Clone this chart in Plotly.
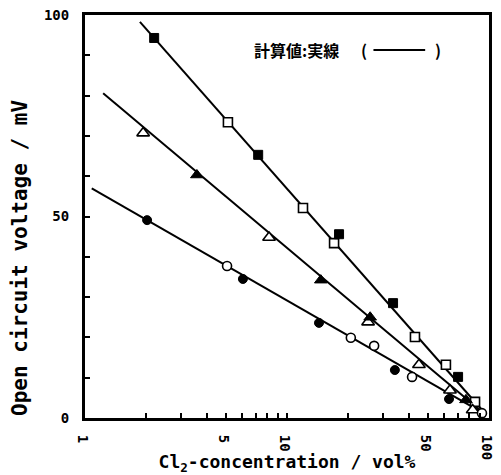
import plotly.graph_objects as go

# --- data ---
sq_filled_x = [2.2, 7.2, 18.1, 33.5, 70.3]
sq_filled_y = [94.3, 65.3, 45.6, 28.5, 10.2]
sq_open_x = [5.1, 12.0, 17.1, 43.0, 61.2, 85.3]
sq_open_y = [73.4, 52.1, 43.4, 20.1, 13.2, 4.0]

tri_filled_x = [3.58, 14.7, 25.8, 76.9]
tri_filled_y = [60.3, 34.2, 25.0, 4.5]
tri_open_x = [1.94, 8.15, 25.2, 45.0, 64.1, 83.0]
tri_open_y = [70.7, 44.8, 23.8, 13.2, 6.9, 2.0]

cir_filled_x = [2.03, 6.05, 14.4, 34.2, 63.4]
cir_filled_y = [49.1, 34.5, 23.6, 11.9, 4.7]
cir_open_x = [5.05, 20.7, 27.0, 41.6, 92.3]
cir_open_y = [37.7, 19.9, 17.9, 10.2, 1.2]

calc_sq_x = [1.87, 95]
calc_sq_y = [98.3, 1.3]
calc_tri_x = [1.23, 95]
calc_tri_y = [80.6, 1.0]
calc_cir_x = [1.08, 95]
calc_cir_y = [57.0, 1.0]

x_tickvals = [1, 2, 3, 4, 5, 6, 7, 8, 9, 10, 20, 30, 40, 50, 60, 70, 80, 90, 100]
x_ticktext = ["1", " ", " ", " ", "5", " ", " ", " ", " ", "10", " ", " ", " ", "50", " ", " ", " ", " ", "100"]
y_tickvals = [0, 10, 20, 30, 40, 50, 60, 70, 80, 90, 100]
y_ticktext = ["0", " ", " ", " ", " ", "50", " ", " ", " ", " ", "100"]

FONT = "DejaVu Sans Mono"

fig = go.Figure()

for lx, ly in [(calc_sq_x, calc_sq_y), (calc_tri_x, calc_tri_y), (calc_cir_x, calc_cir_y)]:
    fig.add_trace(go.Scatter(x=lx, y=ly, mode="lines",
                             line=dict(color="black", width=2), showlegend=False))

def add_markers(x, y, symbol, filled, size=9):
    fig.add_trace(go.Scatter(
        x=x, y=y, mode="markers", showlegend=False,
        marker=dict(symbol=symbol, size=size,
                    color="black" if filled else "white",
                    line=dict(color="black", width=1 if filled else 1.6))))

add_markers(sq_open_x, sq_open_y, "square", False, 9)
add_markers(sq_filled_x, sq_filled_y, "square", True, 9)
add_markers(tri_open_x, tri_open_y, "triangle-up", False, 11)
add_markers(tri_filled_x, tri_filled_y, "triangle-up", True, 11)
add_markers(cir_open_x, cir_open_y, "circle", False, 9)
add_markers(cir_filled_x, cir_filled_y, "circle", True, 9)

legend_font = dict(family="Noto Sans CJK JP", size=16, color="black")
fig.add_annotation(x=0.413, y=0.913, xref="paper", yref="paper", xanchor="left", yanchor="middle",
                   text="<b>計算値:実線</b>", showarrow=False, font=legend_font)
fig.add_annotation(x=0.691, y=0.913, xref="paper", yref="paper", xanchor="center", yanchor="middle",
                   text="<b>(</b>", showarrow=False, font=legend_font)
fig.add_annotation(x=0.874, y=0.913, xref="paper", yref="paper", xanchor="center", yanchor="middle",
                   text="<b>)</b>", showarrow=False, font=legend_font)
fig.add_shape(type="line", xref="paper", yref="paper", x0=0.714, y0=0.913, x1=0.842, y1=0.913,
              line=dict(color="black", width=2))

# y-axis title (placed lower than centre, as in the reference)
fig.add_annotation(x=-0.161, y=0.397, xref="paper", yref="paper", xanchor="center", yanchor="middle",
                   text="<b>Open circuit voltage / mV</b>", textangle=-90, showarrow=False,
                   font=dict(family=FONT, size=21, color="black"))

fig.update_xaxes(type="log", range=[0, 2], tickvals=x_tickvals, ticktext=x_ticktext,
                 ticks="inside", ticklen=5, tickwidth=1.5, tickcolor="black",
                 showline=True, linewidth=3, linecolor="black", mirror=True,
                 showgrid=False, zeroline=False, automargin=False, ticklabelstandoff=4,
                 tickfont=dict(family=FONT, size=14, color="black", weight="bold"),
                 title=dict(text="<b>Cl<sub>2</sub>-concentration / vol%</b>",
                            font=dict(family=FONT, size=18, color="black"), standoff=6))
fig.update_yaxes(range=[0, 100], tickvals=y_tickvals, ticktext=y_ticktext,
                 ticks="inside", ticklen=5, tickwidth=1.5, tickcolor="black",
                 showline=True, linewidth=3, linecolor="black", mirror=True,
                 showgrid=False, zeroline=False, ticklabelstandoff=10, automargin=False,
                 tickfont=dict(family=FONT, size=14, color="black", weight="bold"))

fig.update_layout(width=501, height=475, margin=dict(l=85, r=12, t=15, b=57),
                  plot_bgcolor="white", paper_bgcolor="white", showlegend=False)

fig.write_html("out.html", config={"displayModeBar": False},
               post_script="document.body.style.margin='0';document.body.style.overflow='hidden';")
